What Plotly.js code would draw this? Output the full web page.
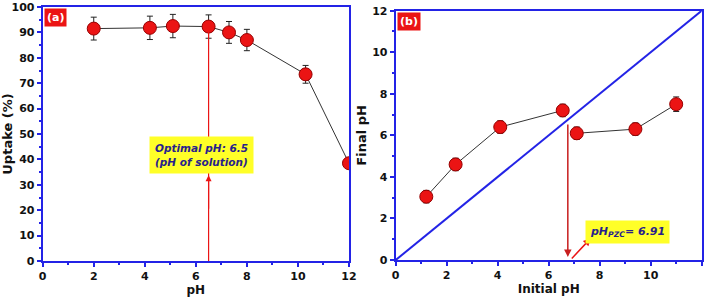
<!DOCTYPE html>
<html>
<head>
<meta charset="utf-8">
<script src="https://cdn.plot.ly/plotly-3.0.1.min.js"></script>
<style>html,body{margin:0;padding:0;background:#fff;}#chart{width:708px;height:297px;}</style>
</head>
<body>
<div id="chart"></div>
<script>
// Panel (a): uptake vs pH
const phA = [2.0, 4.2, 5.1, 6.5, 7.3, 8.0, 10.3, 12.0];
const uptake = [91.5, 91.8, 92.5, 92.3, 90.0, 87.0, 73.5, 38.5];
const uptakeErr = [4.5, 4.6, 4.6, 4.6, 4.3, 4.2, 3.5, 2.0];
// Panel (b): final vs initial pH
const initPH = [1.2, 2.35, 4.1, 6.55, 7.1, 9.4, 11.0];
const finalPH = [3.05, 4.6, 6.4, 7.2, 6.1, 6.3, 7.5];
const finalErr = [0.3, 0.3, 0.3, 0.3, 0.3, 0.3, 0.35];
const diagX = [0, 12];
const diagY = [0, 12];
const optimalPH = 6.5;
const pzc = 6.91;

const BLUE = 'rgb(35,35,230)';
const RED = 'rgb(235,20,20)';
const TXT = 'rgb(40,30,140)';
const FONT = 'DejaVu Sans, sans-serif';

const markerStyle = {color: RED, size: 13, line: {color: 'rgb(150,0,0)', width: 1}};

const traces = [
  {x: phA, y: uptake, xaxis: 'x', yaxis: 'y', mode: 'lines+markers', type: 'scatter',
   line: {color: '#333', width: 1}, marker: markerStyle,
   error_y: {type: 'data', array: uptakeErr, color: '#222', thickness: 1, width: 3}},
  {x: diagX, y: diagY, xaxis: 'x2', yaxis: 'y2', mode: 'lines', type: 'scatter',
   line: {color: BLUE, width: 2}},
  {x: initPH.slice(0, 4), y: finalPH.slice(0, 4), xaxis: 'x2', yaxis: 'y2', mode: 'lines', type: 'scatter',
   line: {color: '#333', width: 1}},
  {x: initPH.slice(4), y: finalPH.slice(4), xaxis: 'x2', yaxis: 'y2', mode: 'lines', type: 'scatter',
   line: {color: '#333', width: 1}},
  {x: initPH, y: finalPH, xaxis: 'x2', yaxis: 'y2', mode: 'markers', type: 'scatter',
   marker: markerStyle,
   error_y: {type: 'data', array: finalErr, color: '#222', thickness: 1, width: 3}}
];

function axis(range, dtick, minor, domain, anchor, title, standoff, tsize) {
  return {
    range: range, domain: domain, anchor: anchor, dtick: dtick,
    showgrid: false, zeroline: false, showline: true, mirror: true,
    linecolor: BLUE, linewidth: 2, ticks: 'outside', ticklen: 4, tickwidth: 2, tickcolor: BLUE,
    minor: {dtick: minor, ticks: 'outside', ticklen: 2, tickwidth: 2, tickcolor: BLUE},
    tickfont: {family: FONT, size: 11, color: '#111', weight: 'bold'},
    title: {text: title, font: {family: FONT, size: tsize, color: '#111', weight: 'bold'}, standoff: standoff},
    fixedrange: true
  };
}

const layout = {
  width: 708, height: 297,
  margin: {l: 0, r: 0, t: 0, b: 0},
  paper_bgcolor: '#fff', plot_bgcolor: '#fff',
  showlegend: false,
  xaxis: axis([0, 12], 2, 1, [0.0603, 0.4929], 'y', 'pH', 1, 12),
  yaxis: axis([0, 100], 10, 5, [0.1212, 0.9764], 'x', 'Uptake (%)', 4, 13),
  xaxis2: axis([0, 12], 2, 1, [0.5589, 0.9911], 'y2', 'Initial pH', 1, 12),
  yaxis2: axis([0, 12], 2, 1, [0.1245, 0.964], 'x2', 'Final pH', 3, 13),
  shapes: [
    {type: 'line', xref: 'x', yref: 'y', x0: optimalPH, x1: optimalPH, y0: 0, y1: 91,
     line: {color: RED, width: 1.2}}
  ],
  annotations: [
    {xref: 'x domain', yref: 'y domain', x: 0.005, y: 0.995, xanchor: 'left', yanchor: 'top',
     text: '<b>(a)</b>', showarrow: false, bgcolor: RED, borderpad: 2,
     font: {family: FONT, size: 11, color: '#fff'}},
    {xref: 'x2 domain', yref: 'y2 domain', x: 0.005, y: 0.995, xanchor: 'left', yanchor: 'top',
     text: '<b>(b)</b>', showarrow: false, bgcolor: RED, borderpad: 2,
     font: {family: FONT, size: 11, color: '#fff'}},
    // arrow up to the box in (a)
    {xref: 'x', yref: 'y', axref: 'x', ayref: 'y', x: optimalPH, y: 33.8, ax: optimalPH, ay: 20,
     showarrow: true, arrowhead: 2, arrowsize: 1, arrowwidth: 1.2, arrowcolor: RED, text: ''},
    {xref: 'x', yref: 'y', x: 6.22, y: 41.8, xanchor: 'center', yanchor: 'middle',
     text: '<b><i>Optimal pH: 6.5<br>(pH of solution)</i></b>', showarrow: false, align: 'left',
     bgcolor: 'rgb(255,255,40)', borderpad: 5,
     font: {family: FONT, size: 10.5, color: TXT}},
    // vertical arrow down in (b)
    {xref: 'x2', yref: 'y2', axref: 'x2', ayref: 'y2', x: 6.75, y: 0.15, ax: 6.75, ay: 6.6,
     showarrow: true, arrowhead: 2, arrowsize: 1, arrowwidth: 1.5, arrowcolor: 'rgb(200,30,30)', text: ''},
    // diagonal arrow to the label in (b)
    {xref: 'x2', yref: 'y2', axref: 'x2', ayref: 'y2', x: 7.65, y: 1.05, ax: 6.85, ay: 0,
     showarrow: true, arrowhead: 2, arrowsize: 1, arrowwidth: 1.5, arrowcolor: RED, text: ''},
    {xref: 'x2', yref: 'y2', x: 9.1, y: 1.35, xanchor: 'center', yanchor: 'middle',
     text: '<b><i>pH<sub>PZC</sub>= ' + pzc + '</i></b>', showarrow: false,
     bgcolor: 'rgb(255,255,40)', borderpad: 4,
     font: {family: FONT, size: 11, color: TXT}}
  ]
};

Plotly.newPlot('chart', traces, layout, {staticPlot: true, displayModeBar: false});
</script>
</body>
</html>
